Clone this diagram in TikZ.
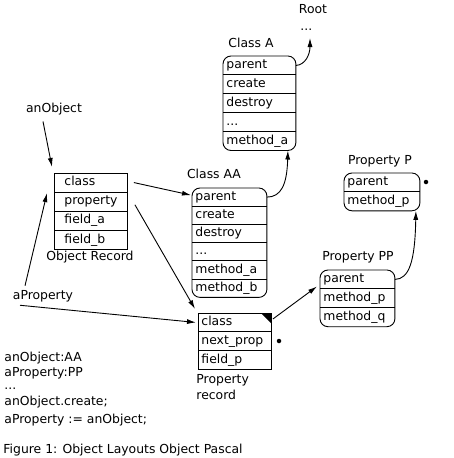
\documentclass[tikz,border=0pt]{standalone}
\usepackage{fontspec}
\setmainfont{DejaVu Sans}
\usetikzlibrary{arrows.meta}
\begin{document}
\begin{tikzpicture}[x=1pt,y=-1pt,
  every node/.style={font=\fontsize{12.4}{14}\selectfont, inner sep=1pt},
  line width=0.9pt,
  arr/.style={-{Latex[length=9pt,width=5pt]}},
  row/.style={anchor=north west, minimum height=18pt, inner ysep=0pt, inner xsep=3pt,
    align=left, text height=8.5pt, text depth=2.5pt},
  rowtw/.style={text width=#1},
  rowh/.style={minimum height=#1},
  lbl/.style={anchor=center},
  code/.style={anchor=base west, inner sep=0pt},
  dotmark/.style={fill, circle, inner sep=0pt, minimum size=4.5pt}
]
\useasboundingbox (0,0) rectangle (453,458);

% ---------- Class A ----------
\node[row, rowtw=66pt] (A1) at (223,56) {parent};
\node[row, rowtw=66pt] (A2) at (A1.south west) {create};
\node[row, rowtw=66pt] (A3) at (A2.south west) {destroy};
\node[row, rowtw=66pt] (A4) at (A3.south west) {...};
\node[row, rowtw=66pt] (A5) at (A4.south west) {method\_a};
\draw[rounded corners=8pt] (A1.north west) rectangle (A5.south east);
\foreach \r in {A1,A2,A3,A4} \draw (\r.south west) -- (\r.south east);
\node[lbl] (labA) at (251,43) {Class A};

% ---------- Class AA ----------
\node[row, rowtw=68pt, rowh=17.33pt] (AA1) at (192,188) {parent};
\node[row, rowtw=68pt, rowh=17.33pt] (AA2) at (AA1.south west) {create};
\node[row, rowtw=68pt, rowh=17.33pt] (AA3) at (AA2.south west) {destroy};
\node[row, rowtw=68pt, rowh=17.33pt] (AA4) at (AA3.south west) {...};
\node[row, rowtw=68pt, rowh=17.33pt] (AA5) at (AA4.south west) {method\_a};
\node[row, rowtw=68pt, rowh=17.33pt] (AA6) at (AA5.south west) {method\_b};
\draw[rounded corners=8pt] (AA1.north west) rectangle (AA6.south east);
\foreach \r in {AA1,AA2,AA3,AA4,AA5} \draw (\r.south west) -- (\r.south east);
\node[lbl] (labAA) at (214,174) {Class AA};

% ---------- Object Record ----------
\node[row, rowtw=53pt, inner xsep=10pt, rowh=18.25pt] (OR1) at (54,173) {class};
\node[row, rowtw=53pt, inner xsep=10pt, rowh=18.25pt] (OR2) at (OR1.south west) {property};
\node[row, rowtw=53pt, inner xsep=10pt, rowh=18.25pt] (OR3) at (OR2.south west) {field\_a};
\node[row, rowtw=53pt, inner xsep=10pt, rowh=18.25pt] (OR4) at (OR3.south west) {field\_b};
\draw (OR1.north west) rectangle (OR4.south east);
\foreach \r in {OR1,OR2,OR3} \draw (\r.south west) -- (\r.south east);
\node[lbl] (labOR) at (90,257) {Object Record};

% ---------- Property record ----------
\node[row, rowtw=67pt] (PR1) at (198,313) {class};
\node[row, rowtw=67pt] (PR2) at (PR1.south west) {next\_prop};
\node[row, rowtw=67pt] (PR3) at (PR2.south west) {field\_p};
\draw (PR1.north west) rectangle (PR3.south east);
\foreach \r in {PR1,PR2} \draw (\r.south west) -- (\r.south east);
\fill (PR1.north east) -- ++(-11,0) -- ++(11,11) -- cycle;
\node[anchor=north west, align=left, inner sep=0pt,
  font=\fontsize{12.4}{16.5}\selectfont] (labPR) at (196,374) {Property\\record};
\node[dotmark] (dotPR) at (279,341) {};

% ---------- Property PP ----------
\node[row, rowtw=68pt] (PP1) at (320,270) {parent};
\node[row, rowtw=68pt] (PP2) at (PP1.south west) {method\_p};
\node[row, rowtw=68pt] (PP3) at (PP2.south west) {method\_q};
\draw[rounded corners=8pt] (PP1.north west) rectangle (PP3.south east);
\foreach \r in {PP1,PP2} \draw (\r.south west) -- (\r.south east);
\node[lbl] (labPP) at (358,257) {Property PP};

% ---------- Property P ----------
\node[row, rowtw=69pt] (P1) at (344,173) {parent};
\node[row, rowtw=69pt] (P2) at (P1.south west) {method\_p};
\draw[rounded corners=8pt] (P1.north west) rectangle (P2.south east);
\draw (P1.south west) -- (P1.south east);
\node[lbl] (labP) at (380,161) {Property P};
\node[dotmark] (dotP) at (426,182) {};

% ---------- Root ----------
\node[lbl] (root) at (313,9) {Root};
\node[code] (rootdots) at (300,30) {...};
\coordinate (rootIn) at (310,38);

% ---------- free labels ----------
\node[lbl] (anObject) at (54,109) {anObject};
\node[lbl] (aProperty) at (43,296) {aProperty};

% ---------- code ----------
\node[code] (c1) at (4,361.5) {anObject:AA};
\node[code] (c2) at (4,376.5) {aProperty:PP};
\node[code] (c3) at (4,389) {...};
\node[code] (c4) at (4,405) {anObject.create;};
\node[code] (c5) at (4,423) {aProperty := anObject;};
\node[code] (fig) at (3,453) {Figure 1: Object Layouts Object Pascal};

% ---------- connectors ----------
\draw[arr] ([xshift=-11pt,yshift=-5pt]anObject.south) -- ([xshift=-2pt,yshift=6pt]OR1.north west);
\draw[arr] ([xshift=-18pt,yshift=3pt]aProperty.north) -- ([xshift=-7pt,yshift=-1pt]OR2.north west);
\draw[arr] ([xshift=-23pt,yshift=-2pt]aProperty.south) -- ([xshift=-2pt]PR1.west);
\draw[arr] ([xshift=6pt]OR1.east) -- ([xshift=-1pt,yshift=2pt]AA1.west);
\draw[arr] ([xshift=7pt,yshift=-3pt]OR2.east) -- ([xshift=-3pt,yshift=4pt]PR1.north west);
\draw[arr] (AA1.east) .. controls (281,197) and (287,185) .. ([xshift=-8pt]A5.south east);
\draw[arr] (A1.east) .. controls (305,65) and (310,55) .. (rootIn);
\draw[arr] ([xshift=1pt,yshift=-6pt]PR1.north east) -- ([xshift=-3pt,yshift=-7pt]PP1.west);
\draw[arr] (PP1.east) .. controls (409,279) and (415,262) .. ([xshift=-4pt]P2.south east);
\end{tikzpicture}
\end{document}
